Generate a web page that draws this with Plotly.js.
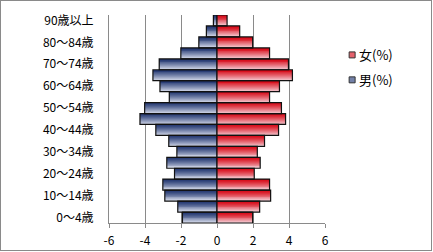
<!DOCTYPE html>
<html>
<head>
<meta charset="utf-8">
<script src="https://cdn.plot.ly/plotly-3.0.1.min.js"></script>
<style>
html,body{margin:0;padding:0;background:#fff;}
#wrap{position:relative;width:433px;height:252px;}
#chart{width:433px;height:252px;}
#frame{position:absolute;left:0;top:0;width:432px;height:251px;box-sizing:border-box;border:1px solid #8a8a8a;pointer-events:none;}
</style>
</head>
<body>
<div id="wrap"><div id="chart"></div><div id="frame"></div></div>
<script>
// Age groups (bottom to top)
const ageGroups = ["0～4歳","5～9歳","10～14歳","15～19歳","20～24歳","25～29歳","30～34歳","35～39歳","40～44歳","45～49歳","50～54歳","55～59歳","60～64歳","65～69歳","70～74歳","75～79歳","80～84歳","85～89歳","90歳以上"];
// Male share (%), drawn to the left as negative values
const maleValues = [-1.92,-2.18,-2.90,-3.01,-2.36,-2.79,-2.23,-2.68,-3.40,-4.28,-4.02,-2.65,-3.17,-3.56,-3.21,-2.01,-1.01,-0.59,-0.20];
// Female share (%)
const femaleValues = [1.98,2.37,2.98,2.92,2.07,2.40,2.24,2.64,3.42,3.81,3.58,2.92,3.47,4.19,3.97,2.92,1.98,1.26,0.56];
// Axis tick labels
const yTickLabels = ["0～4歳","10～14歳","20～24歳","30～34歳","40～44歳","50～54歳","60～64歳","70～74歳","80～84歳","90歳以上"];
const xTickVals = [-6,-4,-2,0,2,4,6];
const xTickText = ["-6","-4","-2","0","2","4","6"];
const seriesNames = {female:"女(%)", male:"男(%)"};

const W = 433, H = 252;
const M = {l:108.7, r:107.7, t:15, b:28.5};
const pw = W - M.l - M.r, ph = H - M.t - M.b;
function px2x(p){return (p - M.l)/pw;}
function px2y(p){return (H - M.b - p)/ph;}

const N = 12;
function lerp(a,b,t){return a.map((v,i)=>Math.round(v+(b[i]-v)*t));}
function rgb(c){return "rgb("+c.join(",")+")";}

const maleDark=[34,54,112], maleLight=[214,220,236];
const femDark=[214,8,22], femLight=[245,205,212];

function gradientTraces(values, dark, light){
  const out = [];
  for(let k=0;k<N;k++){
    const t = k/(N-1);
    const c = lerp(dark, light, Math.pow(t,1.25));
    out.push({
      type:"bar", orientation:"h", x:values, y:ageGroups,
      width:1-k/N, offset:-0.5,
      marker:{color:rgb(c), line:{width:0}},
      showlegend:false, hoverinfo:"skip"
    });
  }
  out.push({
    type:"bar", orientation:"h", x:values, y:ageGroups,
    width:1, offset:-0.5,
    marker:{color:"rgba(0,0,0,0)", line:{width:1.2, color:"#111"}},
    showlegend:false, hoverinfo:"skip"
  });
  return out;
}

const data = [].concat(
  gradientTraces(maleValues, maleDark, maleLight),
  gradientTraces(femaleValues, femDark, femLight)
);

const font = {family:"'Noto Sans CJK JP', 'Noto Sans', sans-serif", size:12, color:"#000"};
const legendFont = {family:font.family, size:13, color:"#000"};

// legend drawn as small squares + text
const legendItems = [
  {name:seriesNames.female, cy:55, fill:rgb(lerp(femDark,femLight,0.45))},
  {name:seriesNames.male, cy:80, fill:rgb(lerp(maleDark,maleLight,0.45))}
];
const shapes = legendItems.map(it=>({
  type:"rect", xref:"paper", yref:"paper",
  x0:px2x(349.5), x1:px2x(355.5), y0:px2y(it.cy+3), y1:px2y(it.cy-3),
  fillcolor:it.fill, line:{color:"#333", width:1}
}));
const annotations = legendItems.map(it=>({
  xref:"paper", yref:"paper", x:px2x(357), y:px2y(it.cy), xanchor:"left", yanchor:"middle",
  text:it.name, showarrow:false, font:legendFont
}));

const layout = {
  width:W, height:H,
  margin:{l:M.l, r:M.r, t:M.t, b:M.b, pad:0},
  paper_bgcolor:"#fff", plot_bgcolor:"#fff",
  barmode:"overlay", bargap:0,
  font:font,
  showlegend:false,
  shapes:shapes, annotations:annotations,
  xaxis:{range:[-6,6], tickmode:"array", tickvals:xTickVals, ticktext:xTickText,
         showgrid:true, gridcolor:"#8a8a8a", gridwidth:1,
         zeroline:true, zerolinecolor:"#8a8a8a", zerolinewidth:1,
         showline:true, linecolor:"#8a8a8a", linewidth:1,
         ticks:"outside", ticklen:4, tickcolor:"#8a8a8a", ticklabelstandoff:3,
         tickfont:font, fixedrange:true},
  yaxis:{type:"category", categoryorder:"array", categoryarray:ageGroups,
         range:[-0.5, ageGroups.length-0.5],
         tickmode:"array", tickvals:yTickLabels, ticktext:yTickLabels,
         showgrid:false, showline:true, linecolor:"#8a8a8a", linewidth:1,
         ticks:"", ticklabelstandoff:12, tickfont:font, fixedrange:true}
};

Plotly.newPlot("chart", data, layout, {displayModeBar:false, staticPlot:true});
</script>
</body>
</html>
